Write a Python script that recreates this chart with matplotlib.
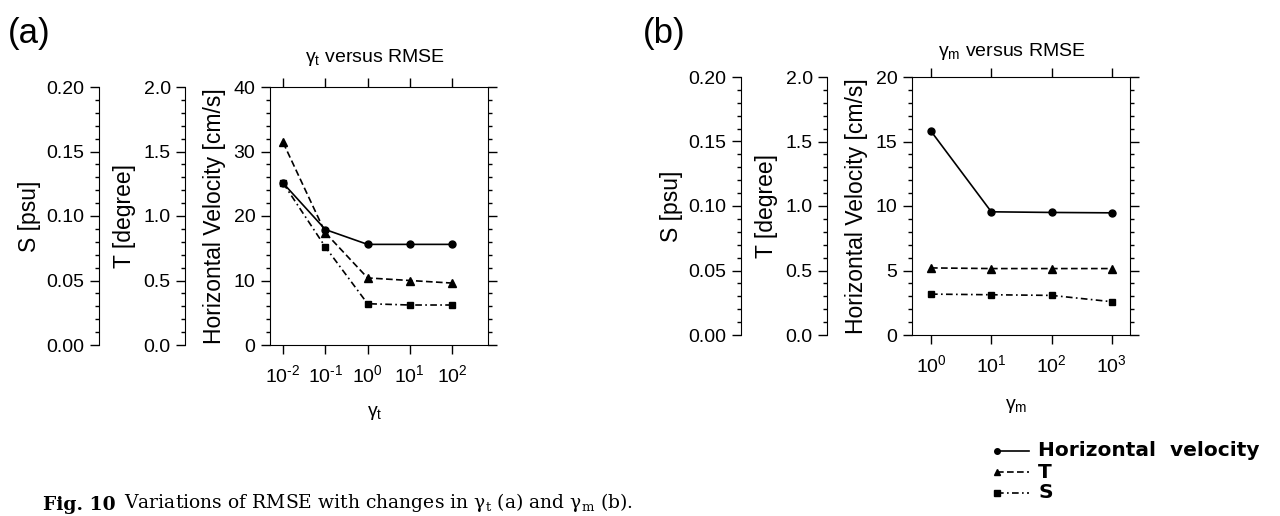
import math

import matplotlib
matplotlib.use("Agg")
import matplotlib.pyplot as plt
from matplotlib.lines import Line2D
from matplotlib.ticker import (FixedLocator, FormatStrFormatter, FuncFormatter,
                               MultipleLocator, NullLocator)

plt.rcParams["font.family"] = ["Liberation Sans", "DejaVu Sans"]
plt.rcParams["mathtext.default"] = "regular"
plt.rcParams["axes.unicode_minus"] = False

# panel (a): gamma_t
gt = [1e-2, 1e-1, 1e0, 1e1, 1e2]
vel_a = [25.1, 17.9, 15.6, 15.6, 15.6]
temp_a = [1.57, 0.87, 0.52, 0.50, 0.48]
sal_a = [0.1255, 0.076, 0.032, 0.031, 0.031]

# panel (b): gamma_m
gm = [1e0, 1e1, 1e2, 1e3]
vel_b = [15.8, 9.55, 9.5, 9.47]
temp_b = [0.52, 0.515, 0.515, 0.515]
sal_b = [0.0317, 0.0312, 0.0307, 0.0258]

legend_labels = ["Horizontal  velocity", "T", "S"]

W, H = 1280, 516
fig = plt.figure(figsize=(W / 100, H / 100), dpi=100)

FS = 14       # tick labels / title
LFS = 16.5    # axis labels
LW = 1.2
LS_T = (0, (4, 2))
LS_S = (0, (4, 2, 1, 2))


def px_rect(left, top, right, bottom):
    return [left / W, (H - bottom) / H, (right - left) / W, (bottom - top) / H]


def pow10(v, pos):
    e = int(round(math.log10(v)))
    return r"$\mathregular{10^{%s}}$" % str(e).replace("-", "\u2010")


def style_ticks(a, major, minor):
    a.yaxis.set_major_locator(MultipleLocator(major))
    a.yaxis.set_minor_locator(MultipleLocator(minor))
    a.tick_params(axis="y", which="major", direction="out", length=6.5, width=1, labelsize=FS, pad=4)
    a.tick_params(axis="y", which="minor", direction="out", length=3, width=1)


def make_panel(rect, xs, vel, temp, sal, xlim, vmax, vminor, sub, title_x, title_y, xlab_y):
    ax = fig.add_axes(rect)
    ax.set_xscale("log")
    ax.set_xlim(*xlim)
    ax.xaxis.set_major_locator(FixedLocator(xs))
    ax.xaxis.set_minor_locator(NullLocator())
    ax.xaxis.set_major_formatter(FuncFormatter(pow10))
    ax.set_ylim(0, vmax)

    ax_t = ax.twinx()
    ax_s = ax.twinx()
    for a, off, top, fmt, label, lx in [
        (ax_t, 61, 2.0, "%.1f", "T [degree]", -0.613),
        (ax_s, 123, 0.2, "%.2f", "S [psu]", -1.05),
    ]:
        a.set_ylim(0, top)
        for s in ["top", "bottom", "right"]:
            a.spines[s].set_visible(False)
        a.spines["left"].set_visible(True)
        a.spines["left"].set_position(("outward", off))
        a.yaxis.set_ticks_position("left")
        a.yaxis.set_label_position("left")
        style_ticks(a, top / 4, top / 20)
        a.yaxis.set_major_formatter(FormatStrFormatter(fmt))
        a.set_ylabel(label, fontsize=LFS)
        a.yaxis.set_label_coords(lx, 0.5)

    style_ticks(ax, vmax / 4, vminor)
    ax.tick_params(axis="y", which="both", left=True, right=True)
    ax.tick_params(axis="x", which="major", direction="out", length=6.5, width=1,
                   top=True, bottom=True, labelsize=FS, pad=7)
    ax.set_ylabel("Horizontal Velocity [cm/s]", fontsize=LFS)
    ax.yaxis.set_label_coords(-0.202, 0.5)
    ax.set_xlabel(r"$\mathregular{\gamma_%s}$" % sub, fontsize=FS)
    ax.xaxis.set_label_coords(0.48, xlab_y)
    ax.text(title_x, title_y, r"$\mathregular{\gamma_%s}$ versus RMSE" % sub,
            transform=ax.transAxes, ha="center", va="center", fontsize=FS)

    ax.plot(xs, vel, color="black", lw=LW, ls="-", marker="o", ms=5, clip_on=False)
    ax_t.plot(xs, temp, color="black", lw=LW, ls=LS_T, marker="^", ms=5.5, clip_on=False)
    ax_s.plot(xs, sal, color="black", lw=LW, ls=LS_S, marker="s", ms=5, clip_on=False)
    return ax


make_panel(px_rect(270, 87, 488, 345), gt, vel_a, temp_a, sal_a,
           (10 ** -2.31, 10 ** 2.85), 40, 2, "t", 0.48, 1.116, -0.23)
make_panel(px_rect(912, 77, 1130, 335), gm, vel_b, temp_b, sal_b,
           (10 ** -0.315, 10 ** 3.3), 20, 1, "m", 0.46, 1.10, -0.24)

fig.text(8 / W, 1 - 33 / H, "(a)", fontsize=25, va="center", ha="left")
fig.text(643 / W, 1 - 33 / H, "(b)", fontsize=25, va="center", ha="left")

# legend, drawn by hand so the marker sits at the left end of each sample
for text, ls, mk, y in zip(legend_labels, ["-", LS_T, LS_S], ["o", "^", "s"], [451, 472, 493]):
    yy = 1 - y / H
    fig.add_artist(Line2D([997 / W, 1029 / W], [yy, yy], color="black", lw=LW, ls=ls,
                          marker=mk, ms=4, markevery=[0], transform=fig.transFigure))
    fig.text(1038 / W, yy, text, family="DejaVu Sans", fontsize=14.5,
             fontweight="bold", va="center", ha="left")

# caption: bold figure number, then the sentence right after it
cap_y = 2 / H
fig_no = fig.text(43 / W, cap_y, "Fig. 10", family="DejaVu Serif", fontweight="bold",
                  fontsize=13.5, va="bottom", ha="left")
fig.canvas.draw()
x_end = fig_no.get_window_extent().x1 + 8
fig.text(x_end / W, cap_y,
         r"Variations of RMSE with changes in $\mathregular{\gamma_t}$ (a) and $\mathregular{\gamma_m}$ (b).",
         family="DejaVu Serif", fontsize=13.5, va="bottom", ha="left")

fig.savefig("out.png", dpi=100)
